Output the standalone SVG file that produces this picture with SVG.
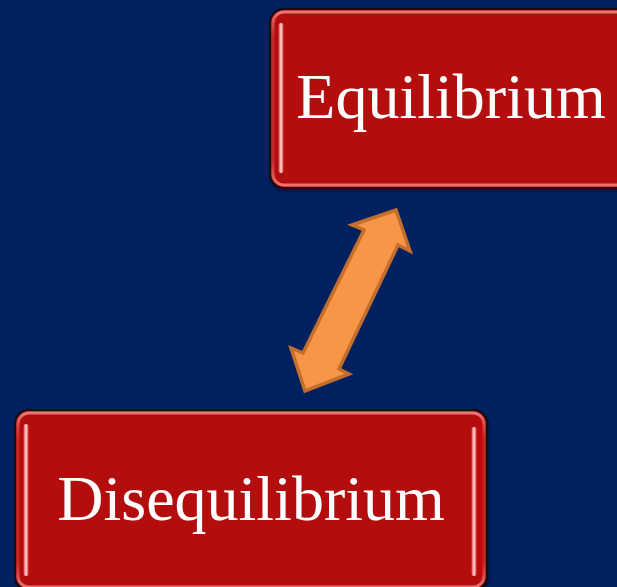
<svg xmlns="http://www.w3.org/2000/svg" width="617" height="587" viewBox="0 0 617 587">
<defs>
<linearGradient id="rim" x1="0" y1="0" x2="0" y2="1">
<stop offset="0" stop-color="#f08080" stop-opacity="0.9"/>
<stop offset="0.15" stop-color="#d04040" stop-opacity="0.5"/>
<stop offset="0.85" stop-color="#d04040" stop-opacity="0.5"/>
<stop offset="1" stop-color="#f08080" stop-opacity="0.9"/>
</linearGradient>
<linearGradient id="stripe" x1="0" y1="0" x2="1" y2="0">
<stop offset="0" stop-color="#ff7070" stop-opacity="0.6"/>
<stop offset="0.5" stop-color="#ffe0e0" stop-opacity="1"/>
<stop offset="1" stop-color="#ff7070" stop-opacity="0.6"/>
</linearGradient>
<filter id="sh" x="-5%" y="-5%" width="110%" height="110%">
<feDropShadow dx="1" dy="2" stdDeviation="1.5" flood-color="#000" flood-opacity="0.5"/>
</filter>
</defs>
<style>
.box{fill:#b30f0d;stroke:#1a0a0a;stroke-width:2}
.rim{fill:none;stroke:url(#rim);stroke-width:3}
.hl{fill:url(#stripe)}
.lbl{font-family:"Liberation Serif","Times New Roman",serif;font-size:64px;fill:#ffffff;text-anchor:middle}
.arrow{fill:#f79646;stroke:#c46e2c;stroke-width:3.5;stroke-linejoin:miter}
</style>
<rect width="617" height="587" fill="#002060"/>
<g id="equilibrium" filter="url(#sh)">
<rect class="box" x="270" y="9" width="362" height="179" rx="14"/>
<rect class="rim" x="273" y="12" width="356" height="173" rx="11"/>
<rect class="hl" x="278.5" y="23" width="5" height="150" rx="2.5"/>
<text class="lbl" x="451" y="118">Equilibrium</text>
</g>
<g id="disequilibrium" filter="url(#sh)">
<rect class="box" x="15" y="410" width="472" height="180" rx="14"/>
<rect class="rim" x="18" y="413" width="466" height="174" rx="11"/>
<rect class="hl" x="23.5" y="424" width="5" height="152" rx="2.5"/>
<rect class="hl" x="471.5" y="427" width="5" height="149" rx="2.5"/>
<text class="lbl" x="251" y="520">Disequilibrium</text>
</g>
<g id="connectors">
<polygon class="arrow" points="396,210 410,251 398,245 339,369 349,374 305,391 291,348 303,353 364,230 352,225"/>
</g>
</svg>
